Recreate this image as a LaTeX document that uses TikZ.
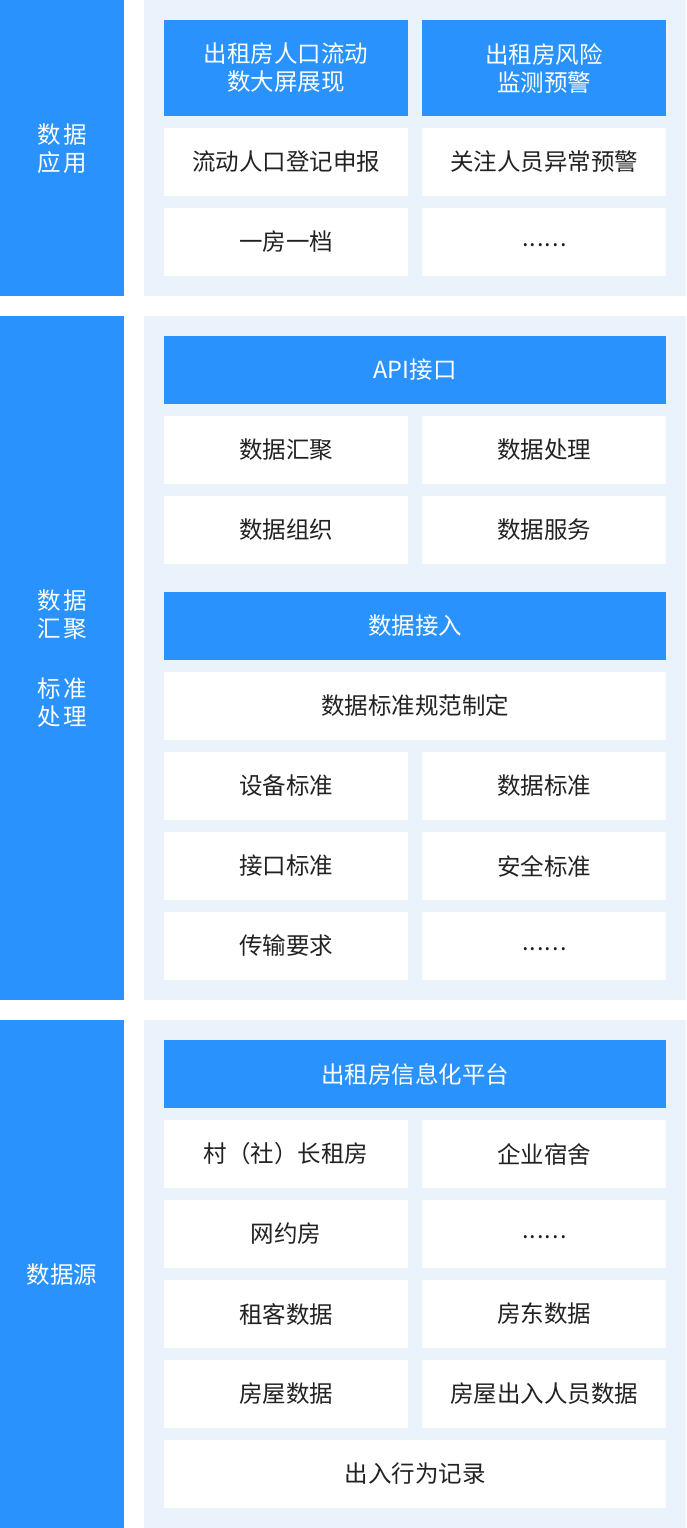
\documentclass[tikz,border=0pt]{standalone}
\usepackage{fontspec}
\setmainfont{Noto Sans CJK SC}
\definecolor{brand}{HTML}{2A92FD}
\definecolor{panel}{HTML}{EAF2FC}
\definecolor{ink}{HTML}{222222}
\tikzset{
  txt/.style={font=\fontsize{23.5}{28}\selectfont, align=center},
  sidelabel/.style={text=white, txt, inner sep=0pt},
  panelbox/.style={fill=panel, draw=none, inner sep=0pt, minimum width=542pt},
  bluebox/.style={fill=brand, draw=none, inner sep=0pt, text=white, txt},
  whitebox/.style={fill=white, draw=none, inner sep=0pt, text=ink, txt},
  half/.style={minimum width=244pt, minimum height=68pt},
  full/.style={minimum width=502pt, minimum height=68pt},
}
\newcommand{\lsp}{\hspace{2.5pt}}
\newcommand{\moredots}{\vphantom{一}\hspace{1pt}.\hspace{1pt}.\hspace{1pt}.\hspace{1pt}.\hspace{1pt}.\hspace{1pt}.}
\begin{document}
\begin{tikzpicture}[x=1pt,y=-1pt]
\useasboundingbox (0,0) rectangle (686,1528);
\fill[white] (0,0) rectangle (686,1528);
% section 1
\fill[brand] (0,0) rectangle (124,296);
\node[panelbox, minimum height=296pt] (p1) at (415,148) {};
\node[sidelabel] (s1) at (62,149) {数\lsp 据\\应\lsp 用};
\node[bluebox, minimum width=244pt, minimum height=96pt] (a1) at (286,68) {出租房人口流动\\数大屏展现};
\node[bluebox, minimum width=244pt, minimum height=96pt] (a2) at (544,68) {出租房风险\\监测预警};
\node[whitebox, half] (a3) at (286,162) {流动人口登记申报};
\node[whitebox, half] (a4) at (544,162) {关注人员异常预警};
\node[whitebox, half] (a5) at (286,242) {一房一档};
\node[whitebox, half] (a6) at (544,242) {\moredots};
% section 2
\fill[brand] (0,316) rectangle (124,1000);
\node[panelbox, minimum height=684pt] (p2) at (415,658) {};
\node[sidelabel] (s2) at (62,659) {数\lsp 据\\汇\lsp 聚\\[32pt]标\lsp 准\\处\lsp 理};
\node[bluebox, full] (b1) at (415,370) {API接口};
\node[whitebox, half] (b2) at (286,450) {数据汇聚};
\node[whitebox, half] (b3) at (544,450) {数据处理};
\node[whitebox, half] (b4) at (286,530) {数据组织};
\node[whitebox, half] (b5) at (544,530) {数据服务};
\node[bluebox, full] (b6) at (415,626) {数据接入};
\node[whitebox, full] (b7) at (415,706) {数据标准规范制定};
\node[whitebox, half] (b8) at (286,786) {设备标准};
\node[whitebox, half] (b9) at (544,786) {数据标准};
\node[whitebox, half] (b10) at (286,866) {接口标准};
\node[whitebox, half] (b11) at (544,866) {安全标准};
\node[whitebox, half] (b12) at (286,946) {传输要求};
\node[whitebox, half] (b13) at (544,946) {\moredots};
% section 3
\fill[brand] (0,1020) rectangle (124,1528);
\node[panelbox, minimum height=508pt] (p3) at (415,1274) {};
\node[sidelabel] (s3) at (62,1275) {数据源};
\node[bluebox, full] (c1) at (415,1074) {出租房信息化平台};
\node[whitebox, half] (c2) at (286,1154) {村（社）长租房};
\node[whitebox, half] (c3) at (544,1154) {企业宿舍};
\node[whitebox, half] (c4) at (286,1234) {网约房};
\node[whitebox, half] (c5) at (544,1234) {\moredots};
\node[whitebox, half] (c6) at (286,1314) {租客数据};
\node[whitebox, half] (c7) at (544,1314) {房东数据};
\node[whitebox, half] (c8) at (286,1394) {房屋数据};
\node[whitebox, half] (c9) at (544,1394) {房屋出入人员数据};
\node[whitebox, full] (c10) at (415,1474) {出入行为记录};
\end{tikzpicture}
\end{document}
